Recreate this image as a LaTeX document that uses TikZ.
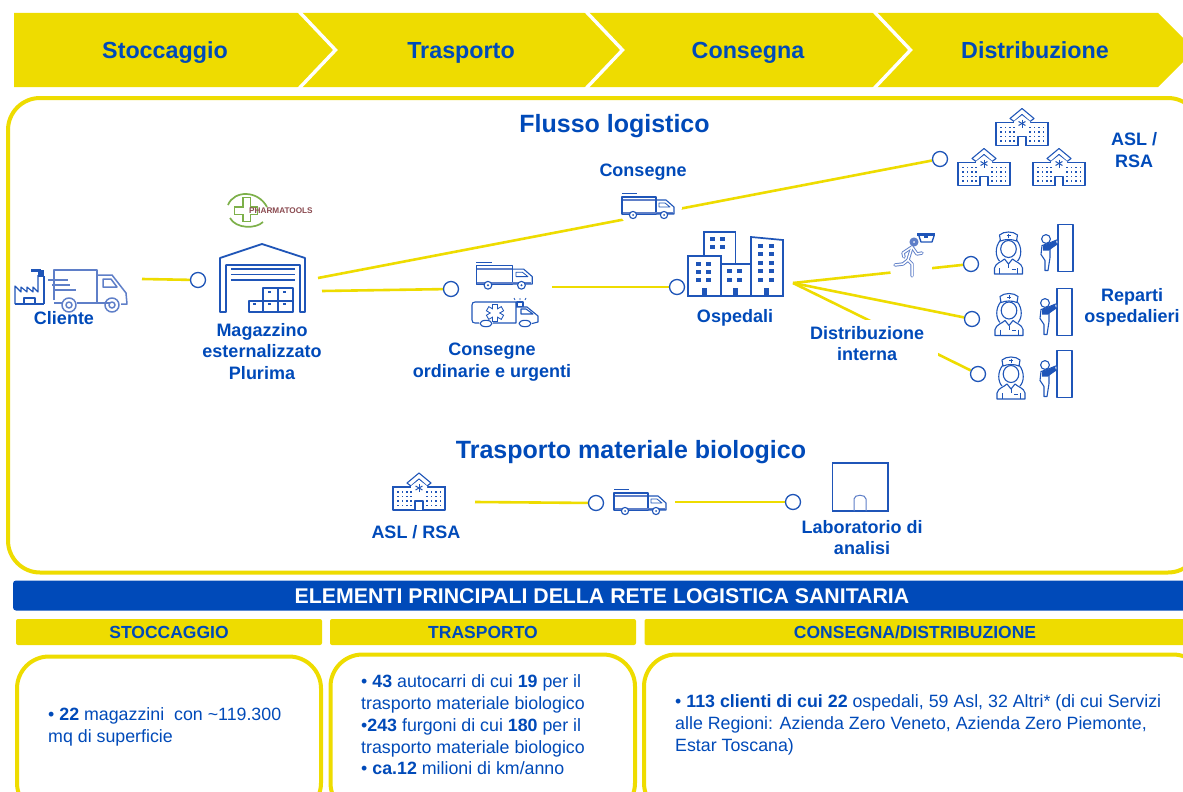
\documentclass[tikz,border=0pt]{standalone}
\usepackage{fontspec}
\setmainfont{Liberation Sans}
\usetikzlibrary{shapes.geometric,backgrounds}
\definecolor{ylw}{HTML}{EEDC00}
\definecolor{blu}{HTML}{004AB9}
\definecolor{icn}{HTML}{1F55B8}
\definecolor{icl}{HTML}{5F7FC8}
\definecolor{lgr}{HTML}{7DB04A}
\definecolor{lrd}{HTML}{8A4A50}
\tikzset{
  band/.style={fill=ylw,draw=none},
  sep/.style={draw=white,line width=3.4pt,miter limit=10},
  panel/.style={draw=ylw,line width=4pt,rounded corners=32pt,fill=white},
  conn/.style={draw=ylw,line width=2.6pt},
  stopc/.style={circle,draw=icn,line width=1.3pt,fill=white,minimum size=15pt,inner sep=0pt},
  mask/.style={ellipse,fill=white,draw=none,inner sep=0pt},
  hd/.style={font=\fontsize{23.3}{26}\selectfont\bfseries,text=blu,inner sep=0pt,text height=16.5pt,text depth=5pt},
  ttl/.style={font=\fontsize{25}{28}\selectfont\bfseries,text=blu,inner sep=0pt},
  lab/.style={font=\fontsize{18}{21.4}\selectfont\bfseries,text=blu,align=center,inner sep=0pt},
  sub/.style={font=\fontsize{17.5}{20}\selectfont\bfseries,text=blu,inner sep=0pt},
  body/.style={font=\fontsize{17.8}{21.8}\selectfont,text=blu,align=left,anchor=west,inner sep=0pt},
  ic/.style={draw=icn,line width=1.1pt,line join=round},
  icthin/.style={draw=icn,line width=.8pt,line join=round},
  truckicon/.pic={
    \draw[ic] (1,4) rectangle (35,21);
    \draw[draw=icl,line width=1.8pt] (2,7)--(34,7);
    \draw[draw=icl,line width=2pt] (2,19.5)--(52,19.5);
    \draw[icthin] (1,0.5)--(16,0.5);
    \draw[ic] (35,7)--(45,7)--(53,14)--(53,21)--(35,21);
    \draw[icthin] (38,10)--(44,10)--(49,14)--(38,14)--cycle;
    \draw[ic,fill=white] (12,22) circle (3.6);
    \draw[ic,fill=white] (43,22) circle (3.6);
    \fill[icn] (12,22) circle (1);
    \fill[icn] (43,22) circle (1);
  },
  hospicon/.pic={
    \draw[ic] (1,14) rectangle (53,37);
    \draw[ic] (0,14)--(54,14);
    \draw[ic,fill=white] (15,10)--(27,0)--(39,10)--(35,13)--(27,6)--(19,13)--cycle;
    \fill[white] (19,13) -- (27,7) -- (35,13) -- (35,15) -- (19,15) -- cycle;
    \draw[ic,fill=white] (23,37)--(23,28)--(31,28)--(31,37);
    \foreach \xa in {6,10.5,15,19,35,39.5,44,48.5}
      \foreach \ya in {19,23.5,28,32.5}
        \fill[icn] (\xa-.8,\ya-.8) rectangle (\xa+.8,\ya+.8);
    \foreach \an in {0,60,120}
      \draw[icn,line width=1pt,rotate around={\an:(27,15)}] (27,11)--(27,19);
  },
  nurseicon/.pic={
    \draw[ic] (7,9) .. controls (1,16) and (2,26) .. (6,30);
    \draw[ic] (23,9) .. controls (29,16) and (28,26) .. (24,30);
    \draw[ic,fill=white] (15,18) ellipse (7.8 and 8.5);
    \draw[ic,fill=white] (6,4) .. controls (10,0) and (20,0) .. (24,4) -- (23,10) .. controls (18,8) and (12,8) .. (7,10) -- cycle;
    \draw[icn,line width=.8pt] (13,4.5)--(17,4.5) (15,2.5)--(15,6.5);
    \draw[ic,fill=white] (1,43)--(1,37) .. controls (2,32) and (8,31) .. (11,28) -- (15,33) -- (19,28) .. controls (22,31) and (28,32) .. (29,37) -- (29,43) -- cycle;
    \draw[icthin] (6,37)--(6,43) (24,37)--(24,43) (15,33)--(15,37);
    \draw[icthin] (18,38)--(22,38);
  },
  dooricon/.pic={
    \draw[ic] (18,0) rectangle (33,47);
    \draw[ic,fill=white] (6,14.5) circle (4.4);
    \draw[ic,fill=white] (2,21)--(8,19)--(18,15)--(18,19)--(10,24)--(10,33)--(8,46)--(5,46)--(5,36)--(1,30)--cycle;
    \fill[icn] (3,21) -- (9,19) -- (16,16) -- (17,20) -- (9,26) -- (3,26) -- cycle;
    \foreach \ya in {10,20,30,40}
      \fill[icn] (17,\ya) rectangle (19,\ya+2);
  },
}
\begin{document}
\begin{tikzpicture}[x=1pt,y=-1pt]
\useasboundingbox (0,0) rectangle (1183,792);
\clip (0,0) rectangle (1183,792);

% top band
\fill[band] (14,13)--(1158,13)--(1195,50)--(1158,87)--(14,87)--cycle;
\draw[sep] (298.5,11)--(335.5,50)--(298.5,89);
\draw[sep] (585.5,11)--(622.5,50)--(585.5,89);
\draw[sep] (873.5,11)--(910.5,50)--(873.5,89);
\node[hd] (h1) at (165,52.3) {Stoccaggio};
\node[hd] (h2) at (461,52.3) {Trasporto};
\node[hd] (h3) at (748,52.3) {Consegna};
\node[hd] (h4) at (1035,52.3) {Distribuzione};

% anchors and stops
\coordinate (a1) at (142,279);
\coordinate (a2) at (318,278);
\coordinate (a3) at (322,291);
\coordinate (a4) at (552,287);
\coordinate (a5) at (793,283);
\coordinate (a6) at (475,502);
\coordinate (a7) at (675,502);
\node[stopc] (c1) at (198,280) {};
\node[stopc] (c2) at (940,159) {};
\node[stopc] (c3) at (451,289) {};
\node[stopc] (c4) at (677,287) {};
\node[stopc] (c5) at (971,264) {};
\node[stopc] (c6) at (972,319) {};
\node[stopc] (c7) at (978,374) {};
\node[stopc] (c8) at (596,503) {};
\node[stopc] (c9) at (793,502) {};

% main panel, connectors and the white areas round the icons
\begin{pgfonlayer}{background}
\clip (0,0) rectangle (1183,792);
\draw[panel] (8,98) rectangle (1200,572.5);
\draw[conn] (a1) -- (c1);
\draw[conn] (a2) -- (c2);
\draw[conn] (a3) -- (c3);
\draw[conn] (a4) -- (c4);
\draw[conn] (a5) -- (c5);
\draw[conn] (a5) -- (c6);
\draw[conn] (a5) -- (c7);
\draw[conn] (a6) -- (c8);
\draw[conn] (a7) -- (c9);
\node[mask,minimum width=64pt,minimum height=48pt] (m1) at (650,207) {};
\node[mask,minimum width=42pt,minimum height=44pt] (m2) at (911,268) {};
\node[mask,rectangle,minimum width=122pt,minimum height=46pt] (m3) at (877,343) {};
\end{pgfonlayer}

\node[ttl] (t1) at (614.5,126) {Flusso logistico};
\node[ttl] (t2) at (631,452.5) {Trasporto materiale biologico};

% client: factory and truck
\draw[ic] (15,304)--(15,286)--(21,292)--(21,287)--(27,292)--(27,287)--(33,292)--(33,287)--(38,292)--(38,275);
\draw[ic] (44,276)--(44,304);
\draw[ic] (15,304)--(44,304);
\draw[ic] (24,304)--(24,298)--(35,298)--(35,304);
\fill[icn] (31,269) rectangle (41,272);
\fill[icn] (38,270) rectangle (44,277);
\begin{scope}[icl,line width=1.5pt,line join=round]
\draw[icl] (54,300)--(54,270)--(97,270)--(97,303)--(110,303);
\draw[icl] (54,303)--(62,303) (77,303)--(97,303);
\draw[icl] (97,275)--(112,275)--(126,293)--(127,304)--(121,304);
\draw[icl] (103,279)--(111,279)--(117,287)--(103,287)--cycle;
\draw[icl] (48,280)--(68,280) (52,285)--(70,285) (55,290)--(76,290);
\draw[icl] (69,305) circle (7);
\draw[icl] (69,305) circle (3);
\draw[icl] (112,305) circle (7);
\draw[icl] (112,305) circle (3);
\end{scope}
\node[lab] (cli) at (64,318) {Cliente};

% logo
\draw[lgr,line width=1.7pt] (228,205) .. controls (234,190) and (258,190) .. (267,207);
\draw[lgr,line width=1.7pt] (230,218) .. controls (236,229) and (256,229) .. (263,222);
\draw[lgr,line width=8.5pt] (246.5,197)--(246.5,222) (234,210.5)--(258,210.5);
\draw[white,line width=6pt] (246.5,198.3)--(246.5,220.7) (235.3,210.5)--(256.7,210.5);
\node[font=\fontsize{8.2}{9}\selectfont\bfseries,text=lrd,inner sep=0pt,anchor=west] (logo) at (249,210.5) {PHARMATOOLS};

% warehouse
\draw[icn,line width=1.8pt,line join=round] (220,312)--(220,258)--(262,244)--(305,258)--(305,312)--(300,312)--(300,265)--(226,265)--(226,312)--cycle;
\draw[icn,line width=1.3pt] (231,269)--(295,269) (231,274.5)--(295,274.5) (231,280)--(295,280);
\draw[ic,line width=1.4pt] (249,301) rectangle (263,312) (263,301) rectangle (278,312) (278,301) rectangle (293,312);
\draw[ic,line width=1.4pt] (263,288) rectangle (278,301) (278,288) rectangle (293,301);
\foreach \xa/\ya in {254/303,269/303,284/303,269/291,284/291}
  \fill[icn] (\xa-1,\ya) rectangle (\xa+1.5,\ya+1.5);
\node[lab] (wh) at (262,351.5) {Magazzino\\esternalizzato\\Plurima};

% truck consegne
\pic (tk1) at (621,193) {truckicon};
\node[lab] (lc) at (643,172) {Consegne};

% ordinary & urgent
\pic[scale=1.08] (tk2) at (475,261.5) {truckicon};
\draw[ic] (479,323)--(475,323) .. controls (473,323) and (472,322) .. (472,320)--(472,305) .. controls (472,303) and (473,302) .. (475,302)--(516,302)--(516,323)--(493,323);
\draw[ic] (516,307)--(527,307)--(538,316)--(538,322)--(532,323.5);
\draw[ic] (531,323)--(519,323);
\draw[ic] (521,309)--(526,309)--(533,314)--(521,314)--cycle;
\draw[ic,fill=white] (517,302) rectangle (523,306.5);
\draw[icn,line width=.7pt] (515,300)--(514,298) (520,300)--(520,298) (525,300)--(526,298);
\draw[ic,fill=white] (486,323.5) ellipse (6 and 3.2);
\draw[ic,fill=white] (525,323.5) ellipse (6 and 3.2);
\foreach \an in {0,60,120}
  \draw[icn,line width=5.6pt,rotate around={\an:(495,313)}] (495,304)--(495,322);
\foreach \an in {0,60,120}
  \draw[white,line width=3.6pt,rotate around={\an:(495,313)}] (495,305)--(495,321);
\node[lab] (lo) at (492,362) {Consegne\\ordinarie e urgenti};

% hospital buildings
\begin{scope}[icn,line width=1.7pt]
\draw[icn] (704,256)--(704,232)--(735.5,232)--(735.5,264);
\draw[icn] (688,296)--(688,256)--(721,256)--(721,296)--cycle;
\draw[icn] (721,264)--(751,264)--(751,296)--(721,296);
\draw[icn] (751,296)--(751,237)--(783,240)--(783,296)--cycle;
\end{scope}
\foreach \xa/\ya in {712/239,722/239,712/247,722/247,
  698/264,708/264,698/272,708/272,698/280,708/280,
  729/271,739/271,729/280,739/280,
  760/246,771/246,760/254,771/254,760/263,771/263,760/271,771/271,760/280,771/280}
  \fill[icn] (\xa-2.5,\ya-2) rectangle (\xa+2.5,\ya+2);
\fill[icn] (702,288) rectangle (707,296);
\fill[icn] (733,288) rectangle (738,296);
\fill[icn] (764,288) rectangle (769,296);
\node[lab] (lsp) at (735,317.5) {Ospedali};

% hospitals top right
\pic (hs1) at (995,108.5) {hospicon};
\pic (hs2) at (957,148.5) {hospicon};
\pic (hs3) at (1032,148.5) {hospicon};
\node[lab] (las) at (1134,150) {ASL /\\RSA};

% runner
\fill[icn] (917,233) rectangle (935,236);
\draw[ic,line width=1.3pt] (919,236)--(921,242)--(932,242)--(934,236);
\fill[icn] (924,236) rectangle (928,238);
\begin{scope}[icl,line width=3.4pt,line cap=round,line join=round]
\draw[icl] (914,242) circle (2.8);
\draw[icl] (922,253)--(917,254)--(912,247)--(903,253)--(904,257);
\draw[icl] (912,247)--(908,260)--(903,264)--(895,265);
\draw[icl] (908,260)--(912,264)--(912,276);
\end{scope}
\begin{scope}[white,line width=1.5pt,line cap=round,line join=round]
\draw[white] (922,253)--(917,254)--(912,247)--(903,253)--(904,257);
\draw[white] (912,247)--(908,260)--(903,264)--(895,265);
\draw[white] (908,260)--(912,264)--(912,276);
\end{scope}
\node[lab] (ldi) at (867,343.5) {Distribuzione\\interna};

% ward staff
\pic (n1) at (993.5,231) {nurseicon};
\pic (n2) at (994,292.5) {nurseicon};
\pic (n3) at (996,356) {nurseicon};
\pic (d1) at (1040,224.5) {dooricon};
\pic (d2) at (1039,288.5) {dooricon};
\pic (d3) at (1039,350.5) {dooricon};
\node[lab] (lre) at (1132,307.5) {Reparti\\ospedalieri};

% bottom chain
\pic (hs4) at (392,473) {hospicon};
\node[lab] (las2) at (416,532) {ASL / RSA};
\pic (tk3) at (613,489) {truckicon};
\draw[icn,line width=1.5pt] (832.5,463) rectangle (888,511);
\draw[icl,line width=1pt] (854,511)--(854,499) .. controls (854,494) and (866,494) .. (866,499)--(866,511);
\node[lab] (lla) at (862,537.5) {Laboratorio di\\analisi};

% lower section
\fill[blu,rounded corners=3pt] (13,580.5) rectangle (1200,610.5);
\node[font=\fontsize{21.3}{24}\selectfont\bfseries,text=white,inner sep=0pt] (ban) at (602,596) {ELEMENTI PRINCIPALI DELLA RETE LOGISTICA SANITARIA};
\fill[ylw,rounded corners=2pt] (16,619) rectangle (322,645);
\fill[ylw,rounded corners=2pt] (330,619) rectangle (636,645);
\fill[ylw,rounded corners=2pt] (644.5,619) rectangle (1200,645);
\node[sub] (s1) at (169,632) {STOCCAGGIO};
\node[sub] (s2) at (483,632) {TRASPORTO};
\node[sub] (s3) at (915,632) {CONSEGNA/DISTRIBUZIONE};
\draw[panel] (17,656.5) rectangle (321,815);
\draw[panel] (330.5,654.5) rectangle (635,815);
\draw[panel] (644,654.5) rectangle (1205,815);
\node[body] (b1) at (48,727) {• \textbf{22} magazzini\ \ con \textasciitilde 119.300\\mq di superficie};
\node[body] (b2) at (361,725) {• \textbf{43} autocarri di cui \textbf{19} per il\\trasporto materiale biologico\\•\textbf{243} furgoni di cui \textbf{180} per il\\trasporto materiale biologico\\• \textbf{ca.12} milioni di km/anno};
\node[body] (b3) at (675,725) {• \textbf{113 clienti di cui 22} ospedali, 59 Asl, 32 Altri* (di cui Servizi\\alle Regioni: Azienda Zero Veneto, Azienda Zero Piemonte,\\Estar Toscana)};
\end{tikzpicture}
\end{document}
